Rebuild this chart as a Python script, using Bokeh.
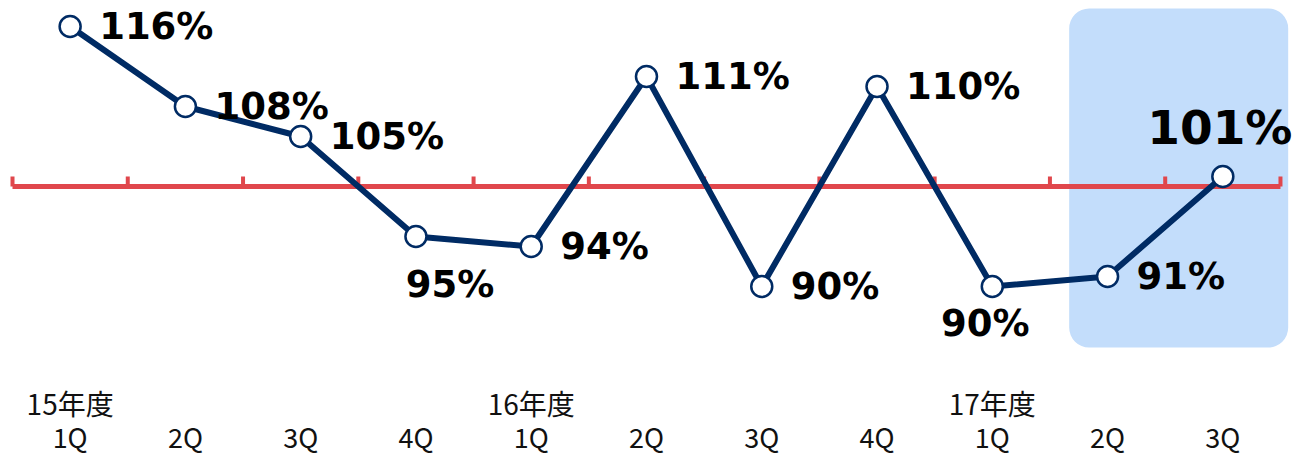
from bokeh.plotting import figure
from bokeh.models import Range1d, ColumnDataSource
from bokeh.core.properties import value
from bokeh.embed import file_html
from bokeh.resources import INLINE

# ---- data ----
quarters = ["1Q", "2Q", "3Q", "4Q", "1Q", "2Q", "3Q", "4Q", "1Q", "2Q", "3Q"]
years = ["15年度", "", "", "", "16年度", "", "", "", "17年度", "", ""]
ratios = [116, 108, 105, 95, 94, 111, 90, 110, 90, 91, 101]
value_labels = ["116%", "108%", "105%", "95%", "94%", "111%", "90%", "110%", "90%", "91%", "101%"]
baseline = 100
highlight = [9, 10]

# ---- label placement styles ----
label_pos = ["right", "right", "right", "below", "right", "right", "right", "right", "below", "right", "above"]

NAVY = "#002B64"
RED = "#E0474C"
HILITE = "#C3DDFB"

n = len(ratios)
xs = list(range(n))
ppu = 115.27  # pixels per category
W, H = 1292, 455
x0 = -0.5 - 12 / ppu
x1 = x0 + W / ppu
y1 = baseline + 18.6
y0 = y1 - H / 10.0

p = figure(width=W, height=H, output_backend="svg", toolbar_location=None,
           x_range=Range1d(x0, x1), y_range=Range1d(y0, y1),
           min_border=0, outline_line_color=None)
p.axis.visible = False
p.grid.visible = False
p.background_fill_color = "white"
p.border_fill_color = "white"

# highlight block
p.quad(left=[highlight[0] - 0.333], right=[highlight[-1] + 0.567],
       bottom=[y1 - 34.7], top=[y1 - 0.8], fill_color=HILITE, line_color=None,
       border_radius=20)

# red baseline with ticks at category boundaries
bounds = [i - 0.5 for i in range(n + 1)]
p.segment(x0=[-0.5], x1=[n - 0.5], y0=[baseline], y1=[baseline],
          line_color=RED, line_width=5, line_cap="butt")
p.segment(x0=bounds, x1=bounds, y0=[baseline] * len(bounds),
          y1=[baseline + 1.0] * len(bounds), line_color=RED, line_width=4, line_cap="butt")

# line + markers
p.line(xs, ratios, line_color=NAVY, line_width=6, line_join="round")
p.scatter(xs, ratios, size=21, fill_color="white", line_color=NAVY, line_width=2.5)

# value labels
offsets = {"right": (29, 0, "left"), "below": (34, 48, "center"), "above": (-3, -49, "center")}
special_below = {8: (-7, 37)}
for i, (x, y, t, pos) in enumerate(zip(xs, ratios, value_labels, label_pos)):
    dx, dy, align = offsets[pos]
    if i in special_below:
        dx, dy = special_below[i]
    size = "47px" if pos == "above" else "37px"
    p.text(x=[x], y=[y], text=[t], x_offset=dx, y_offset=dy,
           text_align=align, text_baseline="middle",
           text_font=value("DejaVu Sans"), text_font_style="bold",
           text_font_size=size, text_color="black")

# category labels
src = ColumnDataSource(dict(x=xs, q=quarters, yr=years,
                            yq=[y1 - 43.6] * n, yy=[y1 - 40.2] * n))
p.text(x="x", y="yy", text="yr", source=src, text_align="center", text_baseline="middle",
       text_font=value("Noto Sans CJK JP"), text_font_size="28px", text_color="#111111")
p.text(x="x", y="yq", text="q", source=src, text_align="center", text_baseline="middle",
       text_font=value("Noto Sans CJK JP"), text_font_size="27px", text_color="#111111")

open("out.html", "w").write(file_html(p, INLINE))
